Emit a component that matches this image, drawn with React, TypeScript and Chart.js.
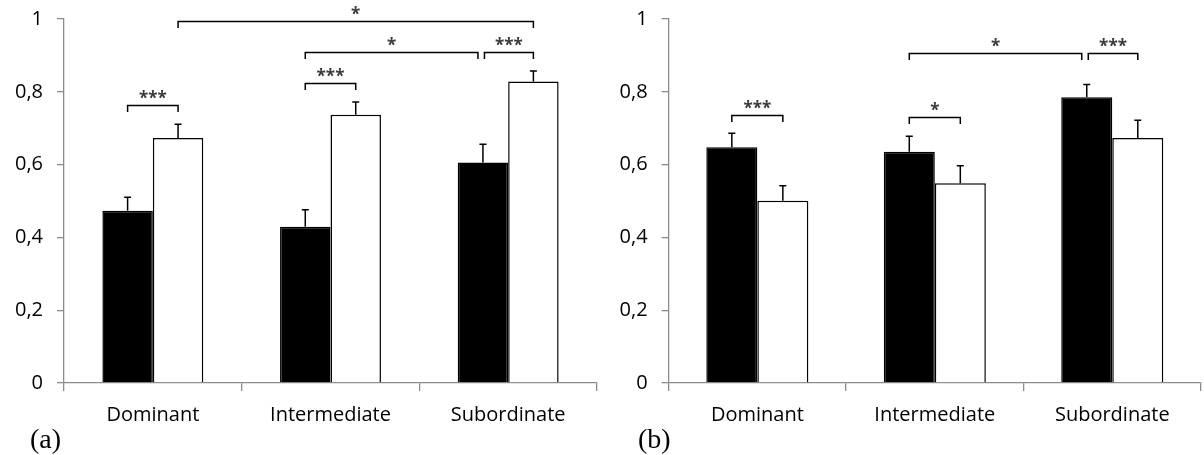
import React, { useEffect, useRef } from "react";
import { Chart, registerables } from "chart.js";
Chart.register(...registerables);

const categories = ["Dominant", "Intermediate", "Subordinate"];
const yTicks = [0, 0.2, 0.4, 0.6, 0.8, 1];

// Panel (a)
const aBlack = [0.473, 0.429, 0.606];
const aBlackErr = [0.037, 0.047, 0.05];
const aWhite = [0.673, 0.737, 0.828];
const aWhiteErr = [0.038, 0.035, 0.029];

// Panel (b)
const bBlack = [0.648, 0.635, 0.785];
const bBlackErr = [0.038, 0.043, 0.035];
const bWhite = [0.501, 0.549, 0.673];
const bWhiteErr = [0.041, 0.048, 0.049];

// significance brackets: [fromCategory, fromSeries, toCategory, toSeries, level, label]
const aBrackets: [number, number, number, number, number, string][] = [
  [0, 0, 0, 1, 0.763, "***"],
  [1, 0, 1, 1, 0.823, "***"],
  [1, 0, 2, 0, 0.908, "*"],
  [2, 0, 2, 1, 0.908, "***"],
  [0, 1, 2, 1, 0.995, "*"],
];
const bBrackets: [number, number, number, number, number, string][] = [
  [0, 0, 0, 1, 0.737, "***"],
  [1, 0, 1, 1, 0.73, "*"],
  [1, 0, 2, 0, 0.906, "*"],
  [2, 0, 2, 1, 0.906, "***"],
];

const AXIS = "#8c8c8c";
const TEXT = "#000";
const FONT = "'Open Sans', 'Noto Sans', sans-serif";

const fmt = (v: number) => (v === 0 ? "0" : v === 1 ? "1" : v.toFixed(1).replace(".", ","));

const errorBarPlugin = {
  id: "errorBars",
  afterDatasetsDraw(chart: any) {
    const ctx = chart.ctx;
    const y = chart.scales.y;
    ctx.save();
    ctx.strokeStyle = "#000";
    ctx.lineWidth = 1.5;
    chart.data.datasets.forEach((ds: any, di: number) => {
      const meta = chart.getDatasetMeta(di);
      meta.data.forEach((el: any, i: number) => {
        const top = y.getPixelForValue(ds.data[i] + ds.errors[i]);
        ctx.beginPath();
        ctx.moveTo(el.x, el.y);
        ctx.lineTo(el.x, top);
        ctx.moveTo(el.x - 3.5, top);
        ctx.lineTo(el.x + 3.5, top);
        ctx.stroke();
      });
    });
    ctx.restore();
  },
};

const bracketPlugin = {
  id: "brackets",
  afterDraw(chart: any, _args: any, opts: any) {
    const list = opts.list as [number, number, number, number, number, string][];
    if (!list) return;
    const ctx = chart.ctx;
    const y = chart.scales.y;
    ctx.save();
    ctx.strokeStyle = "#000";
    ctx.lineWidth = 1.5;
    ctx.fillStyle = "#3a3a3a";
    ctx.font = `bold 17px ${FONT}`;
    ctx.textAlign = "center";
    ctx.textBaseline = "alphabetic";
    list.forEach((b) => {
      const [c1, s1, c2, s2, lvl, label] = b;
      let x1 = chart.getDatasetMeta(s1).data[c1].x;
      let x2 = chart.getDatasetMeta(s2).data[c2].x;
      const shareEnd = list.some((o) => o !== b && o[4] === lvl && o[0] === c2 && o[1] === s2);
      const shareStart = list.some((o) => o !== b && o[4] === lvl && o[2] === c1 && o[3] === s1);
      if (shareEnd) x2 -= 5;
      if (shareStart) x1 += 1.5;
      const yy = Math.round(y.getPixelForValue(lvl)) + 0.5;
      ctx.beginPath();
      ctx.moveTo(x1, yy + 6.5);
      ctx.lineTo(x1, yy);
      ctx.lineTo(x2, yy);
      ctx.lineTo(x2, yy + 6.5);
      ctx.stroke();
      ctx.fillText(label, (x1 + x2) / 2, yy - 1.5);
    });
    ctx.restore();
  },
};

const tagPlugin = {
  id: "tag",
  afterDraw(chart: any, _args: any, opts: any) {
    const ctx = chart.ctx;
    ctx.save();
    ctx.fillStyle = "#000";
    ctx.font = "28px 'Liberation Serif', 'Times New Roman', serif";
    ctx.textAlign = "left";
    ctx.textBaseline = "alphabetic";
    ctx.fillText(opts.text, opts.x, 448);
    ctx.restore();
  },
};

function Panel(props: {
  black: number[];
  blackErr: number[];
  white: number[];
  whiteErr: number[];
  brackets: [number, number, number, number, number, string][];
  tag: string;
  tagX: number;
  width: number;
  yAxisWidth: number;
  catPct: number;
}) {
  const ref = useRef<HTMLCanvasElement>(null);
  useEffect(() => {
    const chart = new Chart(ref.current as HTMLCanvasElement, {
      type: "bar",
      data: {
        labels: categories,
        datasets: [
          {
            data: props.black,
            errors: props.blackErr,
            backgroundColor: "#000",
            borderColor: "#000",
            borderWidth: 1.5,
          } as any,
          {
            data: props.white,
            errors: props.whiteErr,
            backgroundColor: "#fff",
            borderColor: "#000",
            borderWidth: 1.5,
          } as any,
        ],
      },
      options: {
        animation: false,
        responsive: false,
        devicePixelRatio: 1,
        layout: { padding: { top: 19, right: 3, left: 0, bottom: 0 } },
        datasets: { bar: { categoryPercentage: props.catPct, barPercentage: 1 } },
        plugins: {
          legend: { display: false },
          tooltip: { enabled: false },
          brackets: { list: props.brackets },
          tag: { text: props.tag, x: props.tagX },
        } as any,
        scales: {
          x: {
            grid: {
              display: true,
              drawOnChartArea: false,
              drawTicks: true,
              tickLength: 8,
              color: AXIS,
              lineWidth: 1.3,
              offset: true,
            },
            border: { display: true, color: AXIS, width: 1.3 },
            ticks: { font: { family: FONT, size: 20 }, color: TEXT, padding: 12 },
            afterFit: (s: any) => {
              s.height = 72;
            },
          },
          y: {
            min: 0,
            max: 1,
            afterBuildTicks: (s: any) => {
              s.ticks = yTicks.map((v) => ({ value: v }));
            },
            grid: {
              display: true,
              drawOnChartArea: false,
              drawTicks: true,
              tickLength: 7,
              color: AXIS,
              lineWidth: 1.3,
            },
            border: { display: true, color: AXIS, width: 1.3 },
            ticks: {
              callback: (v: any) => fmt(Number(v)),
              font: { family: FONT, size: 20 },
              color: TEXT,
              padding: 14,
            },
            afterFit: (s: any) => {
              s.width = props.yAxisWidth;
              s.paddingTop = 0;
              s.paddingBottom = 0;
            },
          },
        },
      },
      plugins: [errorBarPlugin, bracketPlugin, tagPlugin],
    });
    return () => chart.destroy();
  }, []);
  return (
    <canvas
      ref={ref}
      width={props.width}
      height={455}
      style={{ display: "block", width: props.width, height: 455 }}
    />
  );
}

export default function App() {
  return (
    <div
      style={{
        position: "absolute",
        left: 0,
        top: 0,
        width: 1204,
        height: 455,
        display: "flex",
        background: "#fff",
      }}
    >
      <Panel
        black={aBlack}
        blackErr={aBlackErr}
        white={aWhite}
        whiteErr={aWhiteErr}
        brackets={aBrackets}
        tag="(a)"
        tagX={30}
        width={600}
        yAxisWidth={64}
        catPct={0.568}
      />
      <Panel
        black={bBlack}
        blackErr={bBlackErr}
        white={bWhite}
        whiteErr={bWhiteErr}
        brackets={bBrackets}
        tag="(b)"
        tagX={38}
        width={604}
        yAxisWidth={68.6}
        catPct={0.575}
      />
    </div>
  );
}
